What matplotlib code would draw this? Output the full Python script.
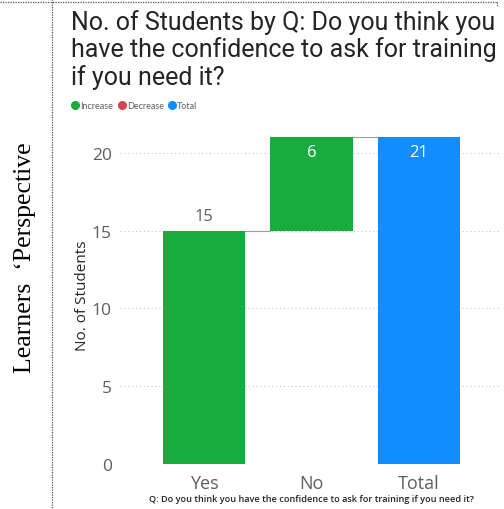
import numpy as np
import matplotlib
matplotlib.use("Agg")
import matplotlib.pyplot as plt
from matplotlib.lines import Line2D

# waterfall data
categories = ["Yes", "No", "Total"]
values = [15, 6, 21]
kinds = ["increase", "increase", "total"]
yticks = [0, 5, 10, 15, 20]

COLORS = {"increase": "#1AAB40", "decrease": "#D64550", "total": "#118DFF"}
W, H = 504, 510

fig = plt.figure(figsize=(W / 100, H / 100), dpi=100)

def fx(px):
    return px / W

def fy(py):
    return 1 - py / H

ax = fig.add_axes([fx(120), fy(465), fx(500) - fx(120), fy(138.4) - fy(465)])

x = np.arange(len(categories))
bw = 0.763
running = 0
bottoms, tops = [], []
for i, (v, k) in enumerate(zip(values, kinds)):
    if k == "total":
        b, t = 0, v
        running = v
    else:
        b, t = running, running + v
        running = t
    bottoms.append(b); tops.append(t)
    ax.bar(x[i], t - b, bottom=b, width=bw, color=COLORS[k], zorder=3)

# connectors between bars
for i in range(len(categories) - 1):
    ax.plot([x[i] + bw / 2, x[i + 1] - bw / 2], [tops[i], tops[i]],
            color="#A19F9D", lw=0.8, zorder=2)

# value labels
for i, v in enumerate(values):
    if i == 0:
        ax.text(x[i], tops[i] + 0.4, str(v), ha="center", va="bottom",
                fontsize=12, color="#605E5C", family="Open Sans")
    else:
        ax.text(x[i], tops[i] - 0.45, str(v), ha="center", va="top",
                fontsize=12, color="white", family="Open Sans")

ax.set_xlim(-0.781, 2.753)
ax.set_ylim(0, 21)
ax.set_yticks(yticks)
ax.set_xticks(x)
ax.set_xticklabels(categories, fontsize=13, color="#605E5C", family="Open Sans")
for lab in ax.get_yticklabels():
    lab.set_fontsize(12.5); lab.set_color("#605E5C"); lab.set_family("Open Sans")
ax.tick_params(length=0, axis="y", pad=6)
ax.tick_params(length=0, axis="x", pad=7)
for s in ax.spines.values():
    s.set_visible(False)
ax.grid(axis="y", color="#C8C6C4", ls=(0, (1, 2.5)), lw=0.8, zorder=0)
ax.set_axisbelow(True)

fig.text(fx(82), fy(296), "No. of Students", rotation=90, ha="center", va="center",
         fontsize=11, color="#252423", family="Open Sans")
fig.text(fx(311), fy(500), "Q: Do you think you have the confidence to ask for training if you need it?",
         ha="center", va="center", fontsize=6.6, color="#252423", family="Open Sans",
         weight="semibold")

# title
title = "No. of Students by Q: Do you think you\nhave the confidence to ask for training\nif you need it?"
fig.text(fx(71), fy(10), title, ha="left", va="top", fontsize=18, color="#252423",
         family="Roboto", linespacing=1.12)

# legend
lx = [75, 122, 172]
labels = ["Increase", "Decrease", "Total"]
for px, lab, k in zip(lx, labels, ["increase", "decrease", "total"]):
    fig.add_artist(Line2D([fx(px)], [fy(106)], marker="o", ms=5.5, color=COLORS[k],
                          transform=fig.transFigure))
    fig.text(fx(px + 5), fy(106.5), lab, ha="left", va="center", fontsize=6.5,
             color="#605E5C", family="Lato")

# side label and frame
fig.text(fx(25), fy(258), "Learners  \u2018Perspective", rotation=90, ha="center", va="center",
         fontsize=18.5, color="black", family="Liberation Serif")
fig.add_artist(Line2D([fx(52), fx(52)], [fy(0), fy(510)], color="#555555", lw=0.9,
                      ls=(0, (1, 1)), transform=fig.transFigure))
fig.add_artist(Line2D([fx(0), fx(497)], [fy(3), fy(3)], color="#555555", lw=0.9,
                      ls=(0, (1, 1)), transform=fig.transFigure))
fig.add_artist(Line2D([fx(497), fx(497)], [fy(3), fy(8)], color="#555555", lw=0.9,
                      ls=(0, (1, 1)), transform=fig.transFigure))

fig.savefig("out.png", dpi=100)
